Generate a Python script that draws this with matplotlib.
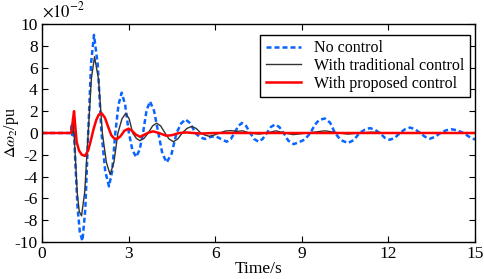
import matplotlib
matplotlib.use("Agg")
import matplotlib.pyplot as plt

plt.rcParams["font.family"] = ["Liberation Serif", "DejaVu Serif"]
plt.rcParams["mathtext.fontset"] = "stix"
plt.rcParams["axes.unicode_minus"] = False

# values in units of 1e-2 pu
t_blue = [0.0, 1.00, 1.03, 1.05, 1.08, 1.11, 1.16, 1.23, 1.31, 1.40, 1.50, 1.60, 1.70, 1.80,
          1.93, 2.06, 2.19, 2.32, 2.43, 2.54, 2.65, 2.76, 2.88, 3.01, 3.13, 3.26, 3.38, 3.50,
          3.62, 3.74, 3.88, 4.03, 4.17, 4.32, 4.49, 4.66, 4.82, 4.97, 5.14, 5.31, 5.48, 5.65,
          5.85, 6.02, 6.20, 6.40, 6.54, 6.67, 6.80, 6.93, 7.07, 7.21, 7.35, 7.50, 7.64, 7.79,
          7.93, 8.07, 8.22, 8.37, 8.53, 8.72, 8.90, 9.10, 9.30, 9.45, 9.60, 9.80, 9.98, 10.15,
          10.35, 10.60, 10.80, 11.00, 11.18, 11.36, 11.53, 11.70, 11.88, 12.05, 12.22, 12.40,
          12.58, 12.75, 12.92, 13.10, 13.27, 13.44, 13.62, 13.80, 14.00, 14.19, 14.38, 14.60,
          14.80, 15.00]
y_blue = [0.0, 0.0, 0.8, -0.2, 1.4, 0.0, -3.0, -6.8, -9.1, -9.9, -7.0, 0.0, 6.4, 9.0,
          6.3, 0.0, -3.5, -4.9, -3.5, 0.0, 2.6, 3.7, 2.6, 0.0, -1.55, -2.2, -1.55, 0.0,
          2.05, 2.9, 2.05, 0.0, -1.9, -2.7, -1.9, 0.0, 0.88, 1.25, 0.88, 0.0, -0.4, -0.55,
          -0.35, -0.3, -0.55, -0.8, -0.55, 0.0, 0.65, 0.92, 0.65, 0.0, -0.55, -0.8, -0.55, 0.0,
          0.55, 0.78, 0.55, 0.0, -0.7, -1.02, -0.85, -0.6, 0.0, 0.75, 1.2, 1.33, 0.95, 0.0,
          -0.65, -0.92, -0.65, 0.0, 0.3, 0.45, 0.3, 0.0, -0.45, -0.62, -0.45, 0.0,
          0.35, 0.5, 0.35, 0.0, -0.35, -0.52, -0.35, 0.0, 0.25, 0.34, 0.25, 0.0,
          -0.35, -0.6]

t_black = [0.0, 1.00, 1.03, 1.06, 1.08, 1.11, 1.16, 1.22, 1.29, 1.37, 1.48, 1.60, 1.71, 1.82,
           1.96, 2.09, 2.23, 2.36, 2.49, 2.63, 2.77, 2.90, 3.02, 3.14, 3.27, 3.39, 3.53, 3.68,
           3.83, 3.97, 4.11, 4.26, 4.40, 4.55, 4.70, 4.86, 5.02, 5.18, 5.34, 5.50, 5.65, 5.80,
           5.95, 6.15, 6.35, 6.55, 6.75, 6.95, 7.20, 7.50, 7.80, 8.10, 8.40, 8.70, 9.20, 9.80,
           10.30, 10.60, 11.00, 11.40, 12.00, 15.00]
y_black = [0.0, 0.0, 0.5, 0.0, 1.0, 0.0, -2.5, -5.5, -7.2, -7.6, -5.4, 0.0, 5.0, 7.0,
           4.9, 0.0, -2.7, -3.8, -2.7, 0.0, 1.3, 1.8, 1.3, 0.0, -0.5, -0.7, -0.5, 0.0,
           0.65, 0.9, 0.65, 0.0, -0.55, -0.8, -0.55, 0.0, 0.42, 0.6, 0.42, 0.0, -0.2, -0.3,
           -0.2, 0.0, 0.18, 0.22, 0.15, 0.2, 0.0, -0.1, 0.0, 0.2, 0.0, -0.15, 0.0, 0.2,
           0.0, -0.1, 0.0, 0.08, 0.0, 0.0]

t_red = [0.0, 1.00, 1.03, 1.07, 1.11, 1.14, 1.20, 1.28, 1.38, 1.49, 1.60, 1.70, 1.78, 1.88,
         1.97, 2.07, 2.18, 2.30, 2.40, 2.50, 2.60, 2.72, 2.85, 3.00, 3.12, 3.25, 3.40, 3.55,
         3.70, 3.85, 4.05, 4.30, 4.50, 4.75, 5.00, 5.50, 6.00, 15.00]
y_red = [0.0, 0.0, 0.2, 1.2, 2.0, 1.0, -0.8, -1.6, -2.0, -2.1, -1.6, -0.6, 0.3, 1.2,
         1.7, 1.8, 1.4, 0.5, -0.2, -0.5, -0.55, -0.3, 0.2, 0.4, 0.2, -0.15, -0.35, -0.15,
         0.05, 0.15, 0.0, -0.25, -0.2, 0.0, 0.05, -0.05, 0.0, 0.0]

fig = plt.figure(figsize=(4.84, 2.79), dpi=100)
ax = fig.add_axes([0.0868, 0.1326, 0.8946, 0.7814])

ax.plot(t_blue, y_blue, color="#0a64ff", lw=1.8, linestyle=(0, (2, 1.2)), label="No control")
ax.plot(t_black, y_black, color="#333333", lw=1.0, label="With traditional control")
ax.plot(t_red, y_red, color="#ff0000", lw=1.8, label="With proposed control")

ax.set_xlim(0, 15)
ax.set_ylim(-10, 10)
ax.set_xticks(range(0, 16, 3))
ax.set_yticks(range(-10, 11, 2))
ax.tick_params(direction="in", top=True, right=True, length=4, labelsize=12.5, pad=3)
for s in ax.spines.values():
    s.set_linewidth(1.0)

ax.set_xlabel("Time/s", fontsize=12.5, labelpad=-1)
ax.set_ylabel(r"$\Delta\omega_2$/pu", fontsize=11.5)
ax.yaxis.set_label_coords(-0.049, 0.5)
ax.text(0.0, 1.033, r"$\times10^{-2}$", transform=ax.transAxes, fontsize=12, ha="left", va="baseline")

leg = ax.legend(loc="upper right", bbox_to_anchor=(0.988, 0.95), fontsize=11.5, frameon=True,
                fancybox=False, edgecolor="black", framealpha=1, labelspacing=0.1,
                handlelength=2.2, handletextpad=0.8, borderpad=0.35, borderaxespad=0)
leg.get_frame().set_linewidth(1.0)

fig.savefig("out.png", dpi=100)
